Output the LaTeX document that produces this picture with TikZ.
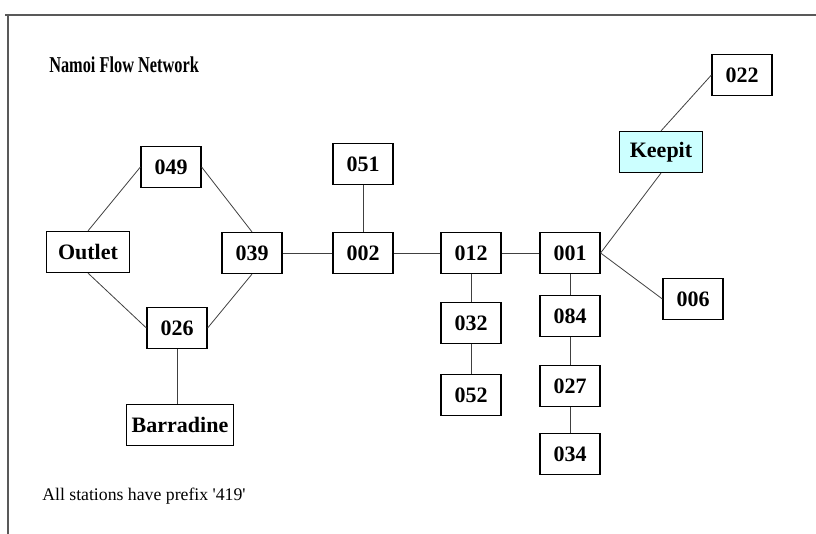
\documentclass[tikz,border=0pt]{standalone}
\usepackage{graphicx}
\usepackage{fontspec}
\setmainfont{Liberation Serif}
\usetikzlibrary{positioning}
\definecolor{keepitcyan}{HTML}{CCFFFF}
\tikzset{
  flownet/.style={x=0.75pt,y=-0.75pt,
    font=\fontsize{16.5}{18}\selectfont\bfseries},
  station/.style={rectangle,draw,line width=0.9pt,minimum width=45pt,
    minimum height=30.75pt,inner xsep=4pt,inner ysep=2pt},
  wide station/.style={station,minimum width=62pt},
  dam/.style={wide station,fill=keepitcyan},
  caption/.style={anchor=west,inner sep=0pt},
  reach/.style={draw=black!75,line width=0.6pt},
  frame/.style={draw=black!65,line width=1.4pt}
}

\begin{document}
\begin{tikzpicture}[flownet]
  \useasboundingbox (0,0) rectangle (816,534);
  \draw[frame] (5,15) -- (816,15);
  \draw[frame] (8,15) -- (8,534);
  \node[caption,font=\fontsize{17}{19}\selectfont\bfseries] (title) at (49,65) {\scalebox{0.72}[1]{Namoi Flow Network}};
  \node[caption,font=\fontsize{13.3}{15}\selectfont] (note) at (42,496) {All stations have prefix \textquotesingle419\textquotesingle};
  % lower river
  \node[station] (n049) at (171,167) {049};
  \node[wide station] (outlet) at (88,252) {Outlet};
  \node[station] (n039) at (252,253) {039};
  \node[station] (n026) at (177,328) {026};
  \node[station] (barradine) at (180,425) {Barradine};
  % main channel
  \node[station] (n051) at (363,164) {051};
  \node[station] (n002) at (363,253) {002};
  \node[station] (n012) at (471,253) {012};
  \node[station] (n032) at (471,323) {032};
  \node[station] (n052) at (471,395) {052};
  \node[station] (n001) at (570,253) {001};
  \node[station] (n084) at (570,316) {084};
  \node[station] (n027) at (570,386) {027};
  \node[station] (n034) at (570,454) {034};
  % upper river
  \node[station] (n006) at (693,299) {006};
  \node[dam] (keepit) at (661,152) {Keepit};
  \node[station] (n022) at (742,75) {022};
  \draw[reach] (outlet.north) -- (n049.west);
  \draw[reach] (n049.east) -- (n039.north);
  \draw[reach] (outlet.south) -- (n026.west);
  \draw[reach] (n039.south) -- (n026.east);
  \draw[reach] (n026) -- (n026 |- barradine.north);
  \draw[reach] (n039) -- (n002);
  \draw[reach] (n051) -- (n002);
  \draw[reach] (n002) -- (n012);
  \draw[reach] (n012) -- (n032);
  \draw[reach] (n032) -- (n052);
  \draw[reach] (n012) -- (n001);
  \draw[reach] (n001) -- (n084);
  \draw[reach] (n084) -- (n027);
  \draw[reach] (n027) -- (n034);
  \draw[reach] (n001.east) -- (n006.west);
  \draw[reach] (n001.east) -- (keepit.south);
  \draw[reach] (keepit.north) -- (n022.west);
\end{tikzpicture}
\end{document}
